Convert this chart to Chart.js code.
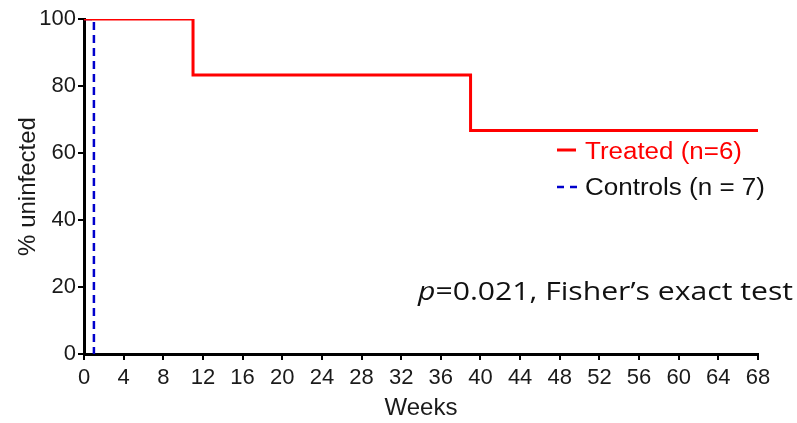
<!DOCTYPE html>
<html>
<head>
<meta charset="utf-8">
<script src="https://cdn.jsdelivr.net/npm/chart.js@4"></script>
<style>
  html, body { margin: 0; padding: 0; background: #fff; }
  #wrap { width: 797px; height: 423px; position: relative; }
</style>
</head>
<body>
<div id="wrap"><canvas id="chart"></canvas></div>
<script>
// survival data (step points)
const treatedWeeks = [0, 11, 39, 68];
const treatedPct = [100, 83.3, 66.7, 66.7];
const controlWeeks = [0, 1];
const controlPct = [100, 0];

const xTicks = [0, 4, 8, 12, 16, 20, 24, 28, 32, 36, 40, 44, 48, 52, 56, 60, 64, 68];
const yTicks = [0, 20, 40, 60, 80, 100];

const seriesNames = ["Treated (n=6)", "Controls (n = 7)"];
const noteText = "=0.021, Fisher\u2019s exact test";

const toPoints = (xs, ys) => xs.map((x, i) => ({ x: x, y: ys[i] }));
const ARIAL = "'Liberation Sans', Arial, sans-serif";

// draw text squeezed/stretched horizontally to a given width
function fitText(ctx, txt, x, y, w) {
    const m = ctx.measureText(txt).width;
    ctx.save();
    ctx.translate(x, y);
    ctx.scale(w / m, 1);
    ctx.fillText(txt, 0, 0);
    ctx.restore();
}

// legend + p-value note
const extras = {
    id: "extras",
    afterDraw(chart) {
        const ctx = chart.ctx;
        ctx.save();

        ctx.lineWidth = 3;
        ctx.strokeStyle = "#ff0000";
        ctx.beginPath();
        ctx.moveTo(557, 150);
        ctx.lineTo(576, 150);
        ctx.stroke();

        ctx.lineWidth = 2.5;
        ctx.strokeStyle = "#0000cc";
        ctx.setLineDash([7, 6]);
        ctx.beginPath();
        ctx.moveTo(557, 187);
        ctx.lineTo(578, 187);
        ctx.stroke();
        ctx.setLineDash([]);

        ctx.font = "23px " + ARIAL;
        ctx.textBaseline = "alphabetic";
        ctx.textAlign = "left";
        ctx.fillStyle = "#ff0000";
        fitText(ctx, seriesNames[0], 585, 159, 157);
        ctx.fillStyle = "#111";
        fitText(ctx, seriesNames[1], 585, 195, 180);

        // p-value note
        const f = "25px 'Open Sans', sans-serif";
        ctx.font = "italic " + f;
        const pw = ctx.measureText("p").width;
        ctx.font = f;
        const rw = ctx.measureText(noteText).width;
        ctx.translate(418, 300);
        ctx.scale(375 / (pw + rw), 1);
        ctx.font = "italic " + f;
        ctx.fillText("p", 0, 0);
        ctx.font = f;
        ctx.fillText(noteText, pw, 0);

        ctx.restore();
    }
};

new Chart(document.getElementById("chart"), {
    type: "line",
    data: {
        datasets: [
            {
                label: seriesNames[0],
                data: toPoints(treatedWeeks, treatedPct),
                borderColor: "#ff0000",
                borderWidth: 3,
                stepped: "before",
                pointRadius: 0,
                fill: false,
                order: 0
            },
            {
                label: seriesNames[1],
                data: toPoints(controlWeeks, controlPct),
                borderColor: "#0000cc",
                borderWidth: 2.5,
                borderDash: [8, 5],
                stepped: "before",
                pointRadius: 0,
                fill: false,
                order: 1
            }
        ]
    },
    options: {
        responsive: true,
        maintainAspectRatio: false,
        animation: false,
        layout: { padding: { top: 19, right: 39, left: 0, bottom: 0 } },
        plugins: {
            legend: { display: false },
            tooltip: { enabled: false }
        },
        scales: {
            x: {
                type: "linear",
                min: 0,
                max: 68,
                afterBuildTicks: s => { s.ticks = xTicks.map(v => ({ value: v })); },
                afterFit: s => { s.height = 69; },
                border: { color: "#000", width: 3 },
                grid: { drawOnChartArea: false, color: "#000", lineWidth: 2, tickLength: 6 },
                ticks: {
                    color: "#1a1a1a",
                    padding: 5,
                    maxRotation: 0,
                    font: { family: ARIAL, size: 22 }
                },
                title: {
                    display: true,
                    text: "Weeks",
                    color: "#1a1a1a",
                    padding: { top: 0, bottom: 0 },
                    font: { family: ARIAL, size: 24 }
                }
            },
            y: {
                min: 0,
                max: 100,
                afterBuildTicks: s => { s.ticks = yTicks.map(v => ({ value: v })); },
                afterFit: s => { s.width = 84; },
                border: { color: "#000", width: 3 },
                grid: { drawOnChartArea: false, color: "#000", lineWidth: 2, tickLength: 6 },
                ticks: {
                    color: "#1a1a1a",
                    padding: 2,
                    font: { family: ARIAL, size: 22 }
                },
                title: {
                    display: true,
                    text: "% uninfected",
                    color: "#1a1a1a",
                    padding: { top: 14, bottom: 0 },
                    font: { family: ARIAL, size: 24 }
                }
            }
        }
    },
    plugins: [extras]
});
</script>
</body>
</html>
